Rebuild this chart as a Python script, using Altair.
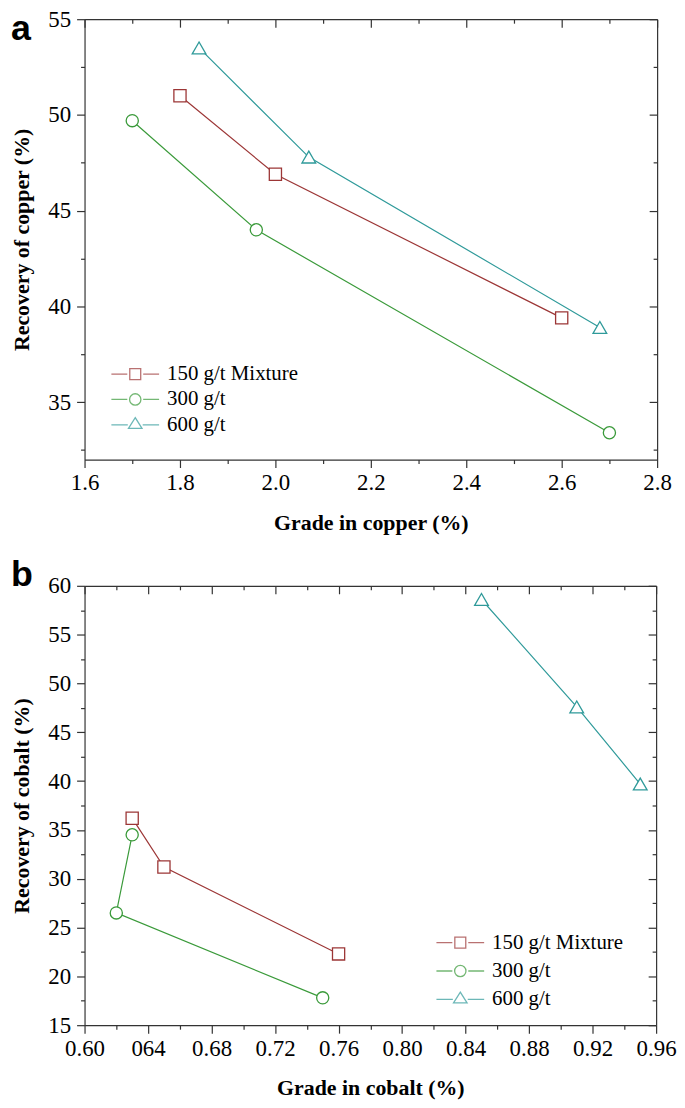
import altair as alt
import pandas as pd

SERIES = ["150 g/t Mixture", "300 g/t", "600 g/t"]
COLORS = ["#9c3636", "#3a9a3a", "#2f9a9a"]
MARKERS = ["square", "circle", "triangle-up"]
MARKER_SIZES = [150, 150, 190]

# Panel a: copper
A_X_150 = [1.80, 2.00, 2.60]
A_Y_150 = [51.0, 46.9, 39.4]
A_X_300 = [1.70, 1.96, 2.70]
A_Y_300 = [49.7, 44.0, 33.4]
A_X_600 = [1.84, 2.07, 2.68]
A_Y_600 = [53.5, 47.8, 38.9]

# Panel b: cobalt
B_X_150 = [0.63, 0.65, 0.76]
B_Y_150 = [36.2, 31.2, 22.3]
B_X_300 = [0.63, 0.62, 0.75]
B_Y_300 = [34.5, 26.5, 17.8]
B_X_600 = [0.85, 0.91, 0.95]
B_Y_600 = [58.6, 47.6, 39.7]

A_X_TICKS = [1.6, 1.7, 1.8, 1.9, 2.0, 2.1, 2.2, 2.3, 2.4, 2.5, 2.6, 2.7, 2.8]
A_Y_TICKS = [32.5, 35, 37.5, 40, 42.5, 45, 47.5, 50, 52.5, 55]
B_X_TICKS = [0.60, 0.62, 0.64, 0.66, 0.68, 0.70, 0.72, 0.74, 0.76, 0.78, 0.80,
             0.82, 0.84, 0.86, 0.88, 0.90, 0.92, 0.94, 0.96]
B_Y_TICKS = [15, 17.5, 20, 22.5, 25, 27.5, 30, 32.5, 35, 37.5, 40, 42.5, 45,
             47.5, 50, 52.5, 55, 57.5, 60]

# legend glyphs: line stub + marker + line stub (unit = 10 px, symbolSize 400)
LEGEND_PATHS = [
    "M-1,0H0.6M2.2,0H3.8M0.85,-0.55H1.95V0.55H0.85Z",
    "M-1,0H0.6M2.2,0H3.8M0.83,0A0.57,0.57,0,1,0,1.97,0A0.57,0.57,0,1,0,0.83,0Z",
    "M-1,0H0.65M2.15,0H3.8M1.4,-0.72L2.08,0.36L0.72,0.36Z",
]

SERIF = "Liberation Serif"


def make_df(xs, ys):
    rows = []
    for s, xv, yv in zip(SERIES, xs, ys):
        for i, (a, b) in enumerate(zip(xv, yv)):
            rows.append({"x": a, "y": b, "series": s, "idx": i})
    return pd.DataFrame(rows)


def panel(df, xdom, ydom, xticks, yticks, xmaj, ymaj, xfmt, xtitle, ytitle,
          w, h, letter, letter_y, leg_x, leg_y, row_pad):
    x_lab = f"({xmaj}) ? format(datum.value, '{xfmt}') : ''"
    if xfmt == ".2f":
        x_lab = "abs(datum.value - 0.64) < 0.001 ? '064' : (" + x_lab + ")"
    y_lab = f"({ymaj}) ? format(datum.value, 'd') : ''"

    xs = alt.Scale(domain=xdom, nice=False, zero=False)
    ys = alt.Scale(domain=ydom, nice=False, zero=False)

    x_bottom = alt.Axis(orient="bottom", values=xticks, labelExpr=x_lab,
                        tickSize={"condition": {"test": xmaj, "value": 8}, "value": 4},
                        labelPadding=4, labelFont=SERIF, labelFontSize=23,
                        labelOverlap=False, labelFlush=False, labelBound=False,
                        title=xtitle, titleFont=SERIF, titleFontSize=22,
                        titleFontWeight="bold", titlePadding=18, grid=False)
    y_left = alt.Axis(orient="left", values=yticks, labelExpr=y_lab,
                      tickSize={"condition": {"test": ymaj, "value": 8}, "value": 4},
                      labelPadding=6, labelFont=SERIF, labelFontSize=23,
                      labelOverlap=False, labelFlush=False, labelBound=False,
                      title=ytitle, titleFont=SERIF, titleFontSize=22,
                      titleFontWeight="bold", titlePadding=14, grid=False)
    x_top = alt.Axis(orient="top", values=xticks, labels=False, title=None,
                     tickSize={"condition": {"test": xmaj, "value": -8}, "value": -4},
                     grid=False)
    y_right = alt.Axis(orient="right", values=yticks, labels=False, title=None,
                       tickSize={"condition": {"test": ymaj, "value": -8}, "value": -4},
                       grid=False)

    base = alt.Chart(df)
    layers = []
    first = True
    for s, c, m, sz in zip(SERIES, COLORS, MARKERS, MARKER_SIZES):
        sub = base.transform_filter(alt.datum.series == s)
        ln = sub.mark_line(strokeWidth=1.2, color=c).encode(
            x=alt.X("x:Q", scale=xs, axis=x_bottom if first else None),
            y=alt.Y("y:Q", scale=ys, axis=y_left if first else None),
            order="idx:Q",
        )
        first = False
        pts = sub.mark_point(
            shape=m, filled=True, fill="white", stroke=c, strokeWidth=1.3,
            size=sz, opacity=1
        ).encode(
            x=alt.X("x:Q", scale=xs, axis=None),
            y=alt.Y("y:Q", scale=ys, axis=None),
        )
        layers += [ln, pts]

    leg_def = dict(title=None, orient="none", legendX=leg_x, legendY=leg_y,
                   symbolSize=400, symbolStrokeWidth=1.3, labelFont=SERIF,
                   labelFontSize=21, labelColor="black", labelOffset=35,
                   rowPadding=row_pad, padding=0)
    leg = base.transform_filter("datum.idx < 0").mark_point(strokeWidth=1.3).encode(
        x=alt.X("x:Q", scale=xs, axis=x_top),
        y=alt.Y("y:Q", scale=ys, axis=y_right),
        color=alt.Color("series:N", scale=alt.Scale(domain=SERIES, range=COLORS),
                        legend=alt.Legend(**leg_def)),
        shape=alt.Shape("series:N", scale=alt.Scale(domain=SERIES, range=LEGEND_PATHS),
                        legend=alt.Legend(**leg_def)),
    )
    layers.append(leg)

    lab = alt.Chart(pd.DataFrame({"lab": [letter]})).mark_text(
        font="Liberation Sans", fontWeight="bold", fontSize=36, align="left",
        baseline="alphabetic", color="black"
    ).encode(text="lab:N", x=alt.value(-74), y=alt.value(letter_y))
    layers.append(lab)

    return alt.layer(*layers).properties(width=w, height=h)


df_a = make_df([A_X_150, A_X_300, A_X_600], [A_Y_150, A_Y_300, A_Y_600])
df_b = make_df([B_X_150, B_X_300, B_X_600], [B_Y_150, B_Y_300, B_Y_600])

pa = panel(df_a, [1.6, 2.8], [32, 55], A_X_TICKS, A_Y_TICKS,
           "abs(datum.value*5 - round(datum.value*5)) < 0.001",
           "datum.value % 5 == 0", ".1f",
           "Grade in copper (%)", "Recovery of copper (%)",
           576, 443, "a", 21, 26, 346, 4.5)
pb = panel(df_b, [0.60, 0.96], [15, 60], B_X_TICKS, B_Y_TICKS,
           "abs(datum.value*25 - round(datum.value*25)) < 0.001",
           "datum.value % 5 == 0", ".2f",
           "Grade in cobalt (%)", "Recovery of cobalt (%)",
           575, 442, "b", 0, 353, 348, 7.5)

chart = alt.vconcat(pa, pb, spacing=24).resolve_scale(
    color="independent", shape="independent"
).properties(
    padding={"left": 3, "top": -3, "right": 0, "bottom": 0}
).configure_view(stroke=None).configure_axis(
    domainColor="#333333", domainWidth=1.2, tickColor="#333333", tickWidth=1.2,
    labelColor="black", titleColor="black", labelFont=SERIF, labelFontSize=23
)

chart.save("out.html", embed_options={"renderer": "svg", "actions": False})
